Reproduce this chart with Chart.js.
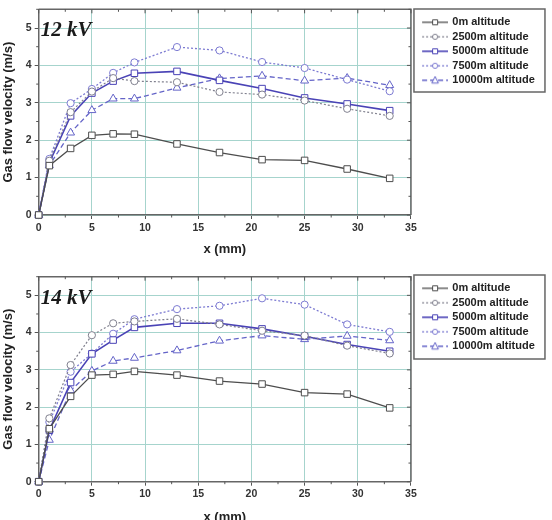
<!DOCTYPE html>
<html><head><meta charset="utf-8">
<script src="https://cdn.jsdelivr.net/npm/chart.js@4.4.1/dist/chart.umd.min.js"></script>
<style>
html,body{margin:0;padding:0;background:#fff;overflow:hidden;width:552px;height:520px;position:relative}
canvas{position:absolute;left:0}
#c1{top:0}
#c2{top:250px}
</style></head>
<body>
<canvas id="c1" width="552" height="262"></canvas>
<canvas id="c2" width="552" height="280"></canvas>
<script>
// ---- data ----
const xPositions = [0, 1, 3, 5, 7, 9, 13, 17, 21, 25, 29, 33];
const seriesLabels = ['0m altitude', '2500m altitude', '5000m altitude', '7500m altitude', '10000m altitude'];
const panelLabels = ['12 kV', '14 kV'];
const xTicksMajor = [0, 5, 10, 15, 20, 25, 30, 35];
const yTicksMajor = [0, 1, 2, 3, 4, 5];

const v12_0m     = [0, 1.32, 1.78, 2.13, 2.17, 2.16, 1.90, 1.67, 1.48, 1.46, 1.23, 0.98];
const v12_2500m  = [0, 1.45, 2.75, 3.30, 3.66, 3.58, 3.55, 3.29, 3.22, 3.06, 2.84, 2.65];
const v12_5000m  = [0, 1.40, 2.65, 3.26, 3.58, 3.79, 3.84, 3.60, 3.38, 3.13, 2.97, 2.79];
const v12_7500m  = [0, 1.50, 2.99, 3.37, 3.80, 4.08, 4.49, 4.40, 4.09, 3.93, 3.62, 3.31];
const v12_10000m = [0, 1.33, 2.20, 2.80, 3.11, 3.11, 3.40, 3.65, 3.72, 3.59, 3.66, 3.47];

const v14_0m     = [0, 1.42, 2.29, 2.86, 2.88, 2.96, 2.86, 2.70, 2.62, 2.39, 2.35, 1.98];
const v14_2500m  = [0, 1.70, 3.13, 3.93, 4.25, 4.30, 4.37, 4.22, 4.05, 3.92, 3.65, 3.44];
const v14_5000m  = [0, 1.38, 2.66, 3.43, 3.80, 4.14, 4.25, 4.25, 4.10, 3.90, 3.68, 3.50];
const v14_7500m  = [0, 1.60, 2.95, 3.44, 3.97, 4.36, 4.63, 4.72, 4.92, 4.75, 4.22, 4.02];
const v14_10000m = [0, 1.12, 2.45, 2.97, 3.24, 3.32, 3.52, 3.78, 3.92, 3.82, 3.91, 3.79];

// ---- styles ----
const styles = [
  {color:'#4d4d4d', dash:[],    pt:'rect',     r:4.6, lw:1.3},
  {color:'#80808e', dash:[2,2], pt:'circle',   r:3.6, lw:1.2},
  {color:'#4a43b6', dash:[],    pt:'rect',     r:4.6, lw:1.6},
  {color:'#7d7bd2', dash:[2,2], pt:'circle',   r:3.6, lw:1.3},
  {color:'#6464c8', dash:[5,3], pt:'triangle', r:4.6, lw:1.3}
];
const FONT = '"Liberation Sans", Arial, sans-serif';
const GRID = '#a6d4cd';

// legend symbol: 35px wide image, visible part in the right 26px
function legendSymbol(s) {
  const c = document.createElement('canvas');
  c.width = 35; c.height = 10;
  const g = c.getContext('2d');
  const x0 = 9, cx = 22;
  g.strokeStyle = s.color; g.lineWidth = s.lw; g.setLineDash(s.dash);
  g.beginPath(); g.moveTo(x0, 5); g.lineTo(35, 5); g.stroke();
  g.setLineDash([]); g.fillStyle = '#fff'; g.lineWidth = 1;
  g.beginPath();
  if (s.pt === 'rect') g.rect(cx - 2.5, 2.5, 5, 5);
  else if (s.pt === 'circle') g.arc(cx, 5, 2.6, 0, Math.PI * 2);
  else { g.moveTo(cx, 1.2); g.lineTo(cx + 3.3, 7.8); g.lineTo(cx - 3.3, 7.8); g.closePath(); }
  g.fill(); g.stroke();
  return c;
}
const symbols = styles.map(legendSymbol);

function makeDatasets(arrs) {
  return arrs.map((vals, i) => {
    const s = styles[i];
    return {
      label: seriesLabels[i],
      data: xPositions.map((x, k) => ({x: x, y: vals[k]})),
      borderColor: s.color, borderWidth: s.lw, borderDash: s.dash,
      pointStyle: s.pt, pointRadius: s.r, pointBorderColor: s.color,
      pointBackgroundColor: '#fff', pointBorderWidth: 1,
      tension: 0, fill: false, clip: false
    };
  });
}

function framePlugin(cfg) {
  return {
    id: 'frameDeco',
    afterDatasetsDraw(chart) {
      const {ctx, chartArea: a, scales: {x, y}} = chart;
      ctx.save();
      ctx.strokeStyle = '#666'; ctx.lineWidth = 1.5;
      ctx.beginPath();
      ctx.moveTo(a.left, a.top); ctx.lineTo(a.right, a.top); ctx.lineTo(a.right, a.bottom);
      ctx.stroke();
      ctx.strokeStyle = '#555'; ctx.lineWidth = 1;
      ctx.beginPath();
      for (let i = 0; i < xTicksMajor.length; i++) {
        const v = xTicksMajor[i];
        const px = x.getPixelForValue(v);
        ctx.moveTo(px, a.top); ctx.lineTo(px, a.top + 4);
        if (i < xTicksMajor.length - 1) {
          const pm = x.getPixelForValue(v + 2.5);
          ctx.moveTo(pm, a.top); ctx.lineTo(pm, a.top + 2.5);
          ctx.moveTo(pm, a.bottom); ctx.lineTo(pm, a.bottom + 2.5);
        }
      }
      for (let i = 0; i < yTicksMajor.length; i++) {
        const v = yTicksMajor[i];
        const py = y.getPixelForValue(v);
        ctx.moveTo(a.right, py); ctx.lineTo(a.right - 4, py);
        const pm = y.getPixelForValue(v + 0.5);
        ctx.moveTo(a.right, pm); ctx.lineTo(a.right - 2.5, pm);
        ctx.moveTo(a.left, pm); ctx.lineTo(a.left - 2.5, pm);
      }
      ctx.stroke();
      // panel label
      ctx.fillStyle = '#1a1a1a';
      ctx.font = 'italic bold 21px "Liberation Serif", "Times New Roman", serif';
      ctx.textBaseline = 'alphabetic';
      ctx.textAlign = 'left';
      ctx.fillText(cfg.label, a.left + 2, a.top + cfg.labelDy);
      ctx.restore();
    },
    afterDraw(chart) {
      const lg = chart.legend;
      const ctx = chart.ctx;
      ctx.save();
      ctx.strokeStyle = '#666'; ctx.lineWidth = 1.5;
      ctx.strokeRect(lg.left + 3, lg.top + cfg.boxOff, 131, cfg.boxH);
      ctx.restore();
    }
  };
}

function makeChart(id, arrs, cfg) {
  const tickFont = {family: FONT, size: 10.5, weight: 'bold'};
  const titleFont = {family: FONT, size: 13, weight: 'bold'};
  return new Chart(document.getElementById(id), {
    type: 'line',
    data: {datasets: makeDatasets(arrs)},
    options: {
      responsive: false, animation: false,
      layout: {padding: {top: cfg.padTop, right: 7.2, left: 0, bottom: 0}},
      plugins: {
        tooltip: {enabled: false},
        legend: {
          position: 'right', align: 'start',
          title: {display: true, text: '', font: {size: 1}, padding: {top: cfg.legTitle, bottom: 0}},
          labels: {
            usePointStyle: true, pointStyleWidth: 32.3, padding: 3.5,
            font: {family: FONT, size: 11, weight: 'bold'}, color: '#222',
            generateLabels(chart) {
              const items = Chart.defaults.plugins.legend.labels.generateLabels(chart);
              items.forEach((it, i) => { it.pointStyle = symbols[i]; it.fontColor = '#222'; });
              return items;
            }
          }
        }
      },
      scales: {
        x: {
          type: 'linear', min: 0, max: 35,
          ticks: {stepSize: 5, font: tickFont, color: '#333', padding: 2.5, maxRotation: 0},
          grid: {color: GRID, tickColor: '#555', tickLength: 4},
          border: {color: '#666', width: 1.5},
          title: {display: true, text: 'x (mm)', font: titleFont, color: '#222', padding: {top: 0, bottom: cfg.xTitlePad}},
          afterFit(s) { s.height = cfg.xH; }
        },
        y: {
          type: 'linear', min: 0, max: 5.5,
          ticks: {stepSize: 1, includeBounds: false, font: tickFont, color: '#333', padding: 3},
          afterBuildTicks(s) { s.ticks = s.ticks.filter(t => yTicksMajor.includes(t.value)); },
          grid: {color: GRID, tickColor: '#555', tickLength: 4},
          border: {color: '#666', width: 1.5},
          title: {display: true, text: 'Gas flow velocity (m/s)', font: titleFont, color: '#222', padding: {top: 0.2, bottom: 0}},
          afterFit(s) { s.width = 38.7; }
        }
      }
    },
    plugins: [framePlugin(cfg)]
  });
}

makeChart('c1', [v12_0m, v12_2500m, v12_5000m, v12_7500m, v12_10000m],
  {label: panelLabels[0], padTop: 9.3, xH: 47, xTitlePad: 4.7, legTitle: 2.8, boxOff: -0.3, boxH: 83, labelDy: 26.7});
makeChart('c2', [v14_0m, v14_2500m, v14_5000m, v14_7500m, v14_10000m],
  {label: panelLabels[1], padTop: 26.7, xH: 48.3, xTitlePad: 5, legTitle: 1.4, boxOff: -1.7, boxH: 84, labelDy: 27.3});
</script>
</body></html>
